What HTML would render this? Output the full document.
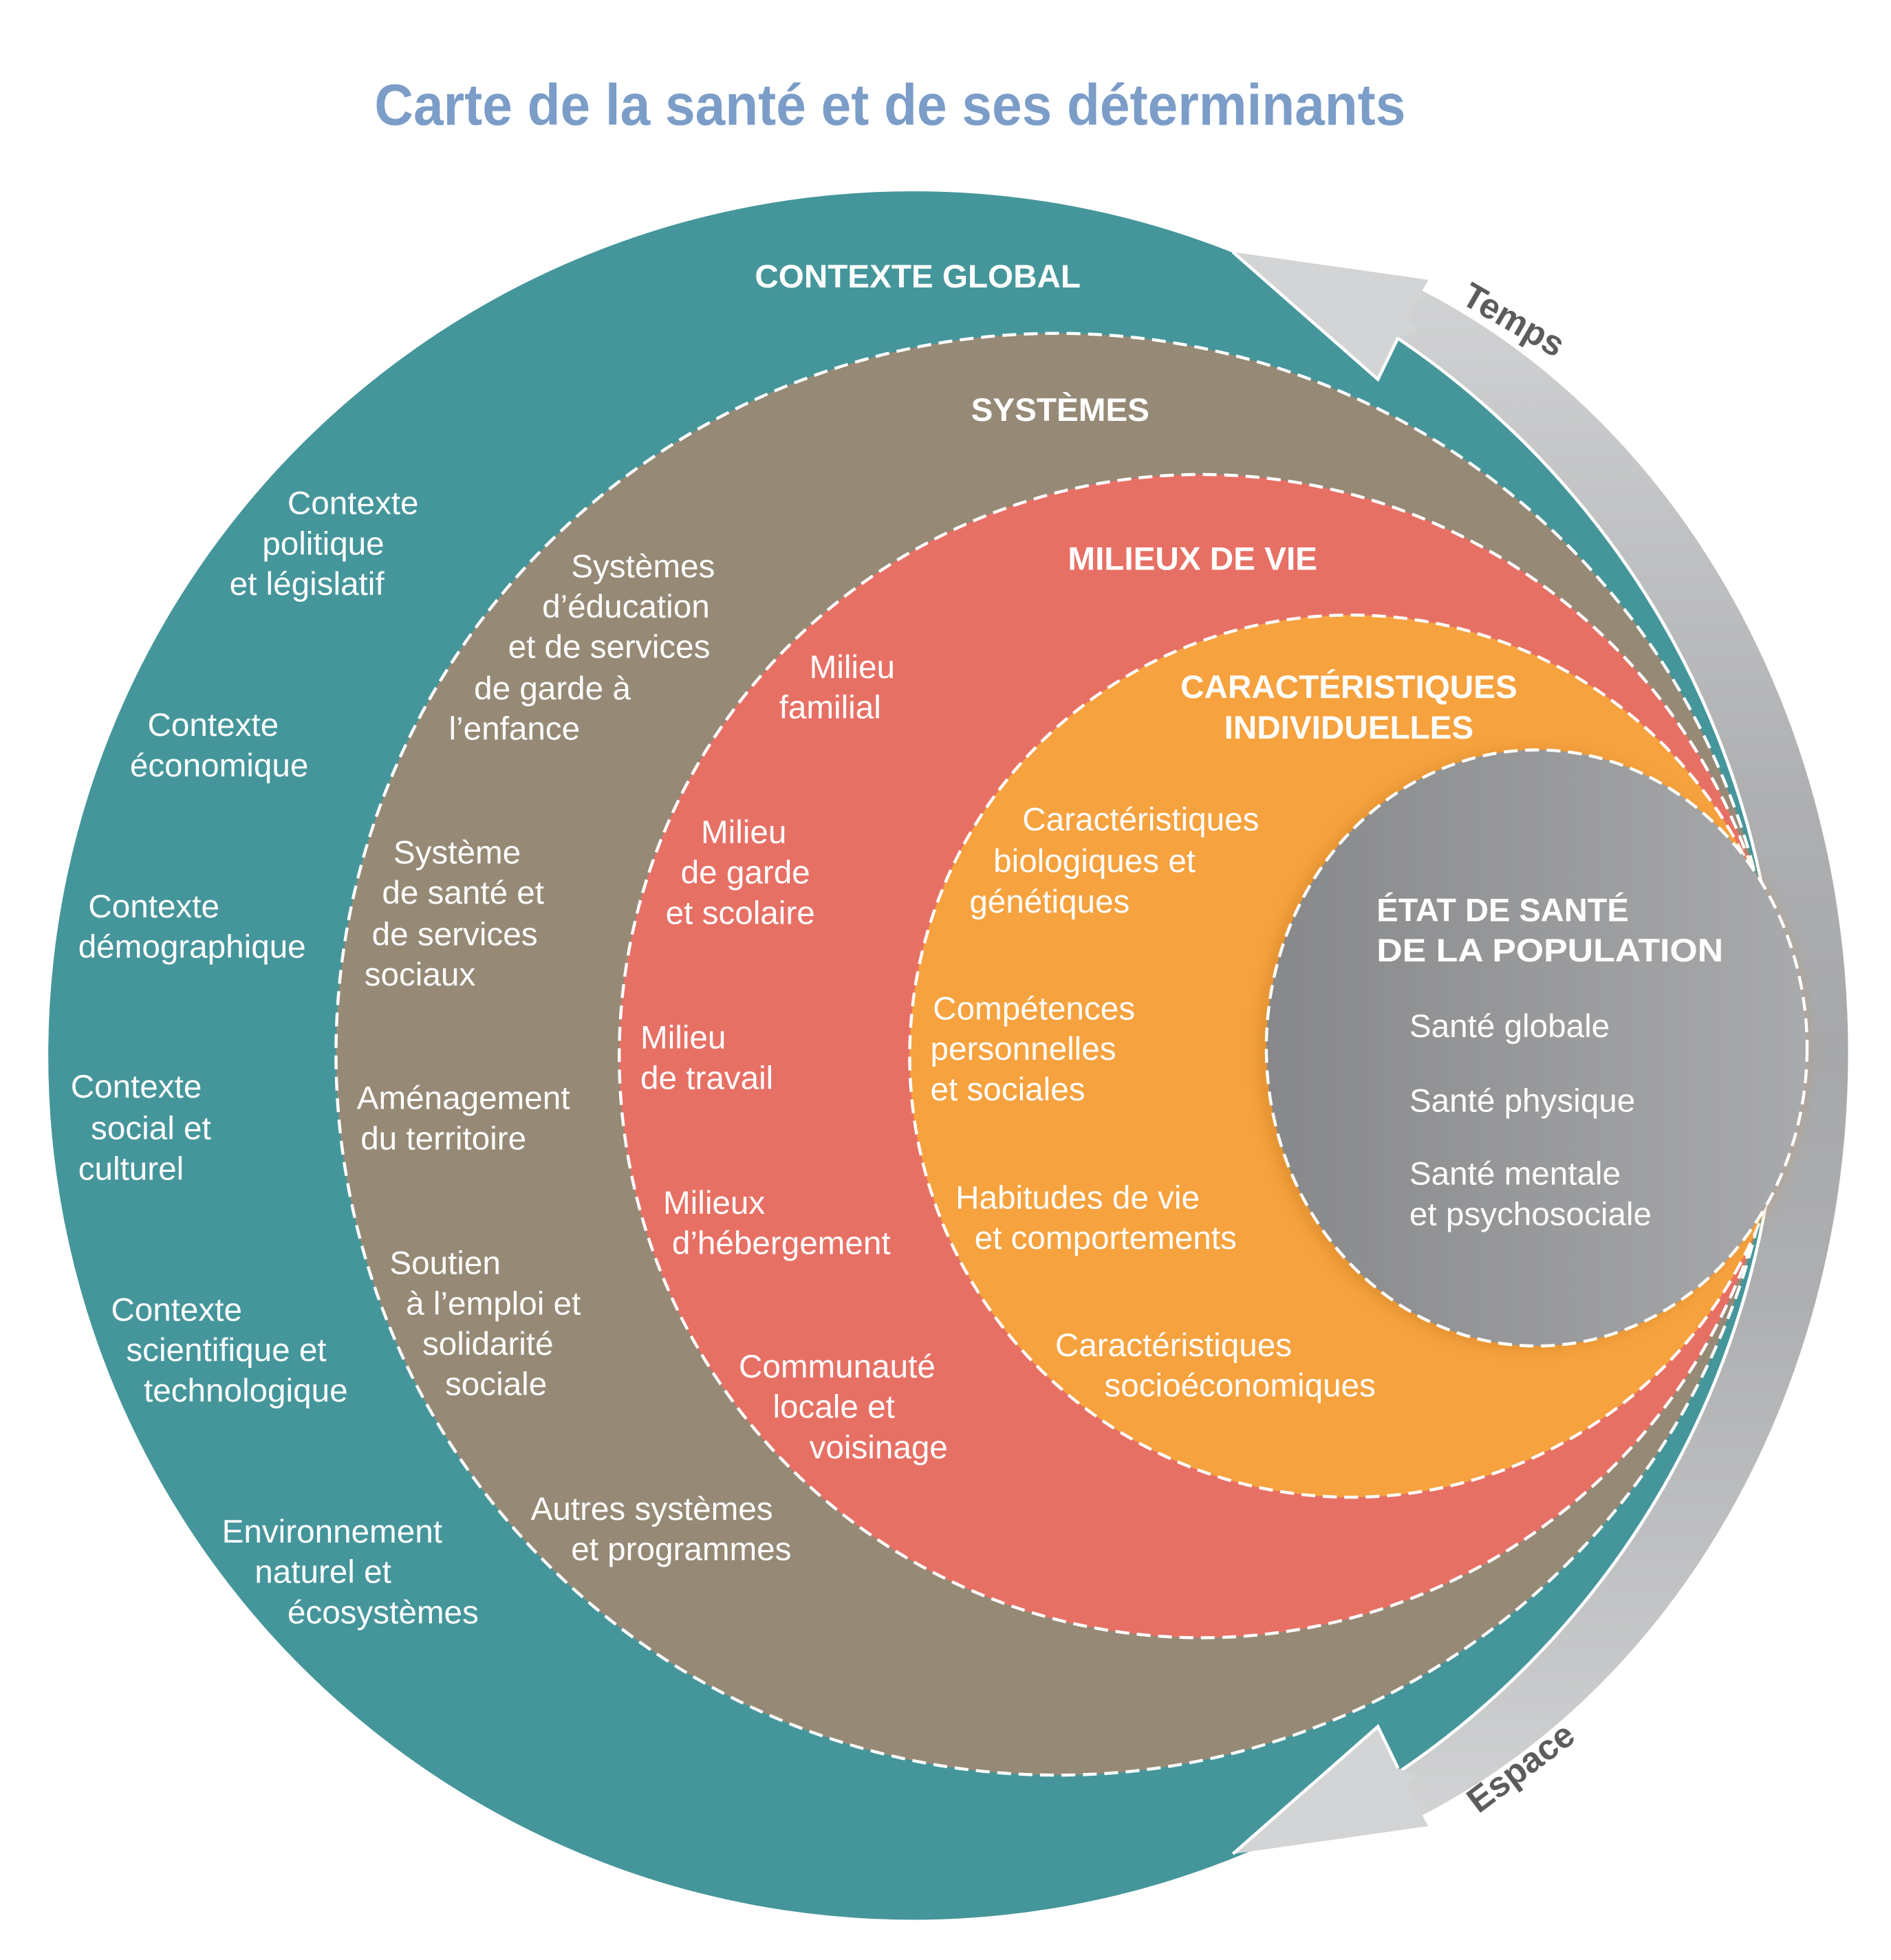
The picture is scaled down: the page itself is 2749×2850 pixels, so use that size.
<!DOCTYPE html>
<html><head><meta charset="utf-8"><style>
html,body{margin:0;padding:0;background:#fff;}
svg{display:block;}
text{font-family:"Liberation Sans",sans-serif;}
.l{fill:#fff;font-size:26px;}
.h{fill:#fff;font-size:26px;font-weight:bold;}
</style></head><body>
<svg width="2749" height="2850" viewBox="0 0 1500 1555.2" xmlns="http://www.w3.org/2000/svg">
<defs>
<linearGradient id="band" x1="0" y1="0" x2="0" y2="1">
<stop offset="0" stop-color="#d6d7d8"/><stop offset="0.35" stop-color="#aeafb1"/><stop offset="0.5" stop-color="#a7a8aa"/><stop offset="0.65" stop-color="#aeafb1"/><stop offset="1" stop-color="#d6d7d8"/>
</linearGradient>
<linearGradient id="gcirc" x1="0" y1="0" x2="1" y2="0">
<stop offset="0" stop-color="#87888a"/><stop offset="1" stop-color="#a9aaac"/>
</linearGradient>
<clipPath id="bc"><polygon points="1100,262 1116,253 1150,190 1500,190 1500,1480 1150,1480 1116,1418 1100,1409"/></clipPath>
<filter id="sh" x="-20%" y="-20%" width="140%" height="140%"><feGaussianBlur stdDeviation="5"/></filter>
</defs>

<text x="706" y="99" text-anchor="middle" font-size="46" font-weight="bold" fill="#7b9dc8" textLength="818" lengthAdjust="spacingAndGlyphs">Carte de la santé et de ses déterminants</text>

<!-- grey band -->
<ellipse cx="900" cy="835.5" rx="566" ry="661" fill="url(#band)" clip-path="url(#bc)"/>

<!-- teal -->
<circle cx="724" cy="837.5" r="687" fill="#45969b" stroke="#fff" stroke-width="2.5"/>

<!-- arrowheads -->
<polygon points="978,200 1133,222 1116,253 1125,262 1109,268 1093,301" fill="#d3d4d5"/>
<polyline points="978,200 1093,301 1109,268" fill="none" stroke="#fff" stroke-width="2.5"/>
<polygon points="978,1471 1133,1449 1116,1418 1125,1409 1109,1403 1093,1370" fill="#d3d4d5"/>
<polyline points="978,1471 1093,1370 1109,1403" fill="none" stroke="#fff" stroke-width="2.5"/>

<text transform="translate(1196,262) rotate(30)" text-anchor="middle" font-size="28" font-weight="bold" fill="#5c5c5e">Temps</text>
<text transform="translate(1212,1410) rotate(-37)" text-anchor="middle" font-size="28" font-weight="bold" fill="#5c5c5e">Espace</text>

<!-- brown -->
<circle cx="838.5" cy="836.5" r="572" fill="#968a76" stroke="#fff" stroke-width="2.4" stroke-dasharray="11 6"/>
<!-- red -->
<circle cx="952.7" cy="838" r="461.5" fill="#e77065" stroke="#fff" stroke-width="2.4" stroke-dasharray="11 6"/>
<!-- orange -->
<circle cx="1071.6" cy="838" r="350" fill="#f6a23f" stroke="#fff" stroke-width="2.4" stroke-dasharray="11 6"/>
<!-- grey ellipse shadow + body -->
<ellipse cx="1214" cy="833" rx="217" ry="239" fill="#d98a2a" opacity="0.6" filter="url(#sh)"/>
<ellipse cx="1219" cy="831.5" rx="214.5" ry="236.5" fill="url(#gcirc)" stroke="#fff" stroke-width="2.4" stroke-dasharray="11 6"/>

<!-- headers -->
<text class="h" x="728" y="228" text-anchor="middle">CONTEXTE GLOBAL</text>
<text class="h" x="841" y="334" text-anchor="middle">SYSTÈMES</text>
<text class="h" x="946" y="452" text-anchor="middle">MILIEUX DE VIE</text>
<text class="h" x="1070" y="554" text-anchor="middle">CARACTÉRISTIQUES</text>
<text class="h" x="1070" y="586" text-anchor="middle">INDIVIDUELLES</text>
<text class="h" x="1092" y="731" textLength="200" lengthAdjust="spacingAndGlyphs">ÉTAT DE SANTÉ</text>
<text class="h" x="1092" y="763" textLength="275" lengthAdjust="spacingAndGlyphs">DE LA POPULATION</text>

<!-- teal labels -->
<text class="l" x="228" y="408">Contexte</text>
<text class="l" x="208" y="440">politique</text>
<text class="l" x="182" y="472">et législatif</text>
<text class="l" x="117" y="584">Contexte</text>
<text class="l" x="103" y="616">économique</text>
<text class="l" x="70" y="728">Contexte</text>
<text class="l" x="62" y="760">démographique</text>
<text class="l" x="56" y="871">Contexte</text>
<text class="l" x="72" y="904">social et</text>
<text class="l" x="62" y="936">culturel</text>
<text class="l" x="88" y="1048">Contexte</text>
<text class="l" x="100" y="1080">scientifique et</text>
<text class="l" x="114" y="1112">technologique</text>
<text class="l" x="176" y="1224">Environnement</text>
<text class="l" x="202" y="1256">naturel et</text>
<text class="l" x="228" y="1288">écosystèmes</text>

<!-- brown labels -->
<text class="l" x="453" y="458">Systèmes</text>
<text class="l" x="430" y="490">d’éducation</text>
<text class="l" x="403" y="522">et de services</text>
<text class="l" x="376" y="555">de garde à</text>
<text class="l" x="356" y="587">l’enfance</text>
<text class="l" x="312" y="685">Système</text>
<text class="l" x="303" y="717">de santé et</text>
<text class="l" x="295" y="750">de services</text>
<text class="l" x="289" y="782">sociaux</text>
<text class="l" x="283" y="880">Aménagement</text>
<text class="l" x="286" y="912">du territoire</text>
<text class="l" x="309" y="1011">Soutien</text>
<text class="l" x="322" y="1043">à l’emploi et</text>
<text class="l" x="335" y="1075">solidarité</text>
<text class="l" x="353" y="1107">sociale</text>
<text class="l" x="421" y="1206">Autres systèmes</text>
<text class="l" x="453" y="1238">et programmes</text>

<!-- red labels -->
<text class="l" x="642" y="538">Milieu</text>
<text class="l" x="618" y="570">familial</text>
<text class="l" x="556" y="669">Milieu</text>
<text class="l" x="540" y="701">de garde</text>
<text class="l" x="528" y="733">et scolaire</text>
<text class="l" x="508" y="832">Milieu</text>
<text class="l" x="508" y="864">de travail</text>
<text class="l" x="526" y="963">Milieux</text>
<text class="l" x="533" y="995">d’hébergement</text>
<text class="l" x="586" y="1093">Communauté</text>
<text class="l" x="613" y="1125">locale et</text>
<text class="l" x="642" y="1157">voisinage</text>

<!-- orange labels -->
<text class="l" x="811" y="659">Caractéristiques</text>
<text class="l" x="788" y="692">biologiques et</text>
<text class="l" x="769" y="724">génétiques</text>
<text class="l" x="740" y="809">Compétences</text>
<text class="l" x="738" y="841">personnelles</text>
<text class="l" x="738" y="873">et sociales</text>
<text class="l" x="758" y="959">Habitudes de vie</text>
<text class="l" x="773" y="991">et comportements</text>
<text class="l" x="837" y="1076">Caractéristiques</text>
<text class="l" x="876" y="1108">socioéconomiques</text>

<!-- grey labels -->
<text class="l" x="1118" y="823">Santé globale</text>
<text class="l" x="1118" y="882">Santé physique</text>
<text class="l" x="1118" y="940">Santé mentale</text>
<text class="l" x="1118" y="972">et psychosociale</text>
</svg>
</body></html>
